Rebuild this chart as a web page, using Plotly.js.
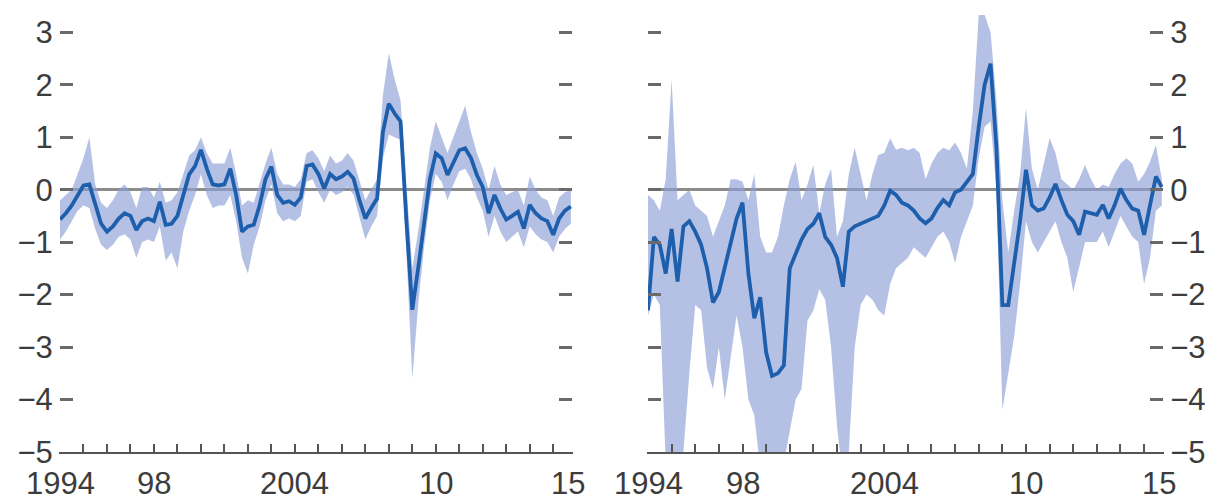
<!DOCTYPE html>
<html>
<head>
<meta charset="utf-8">
<script src="https://cdn.plot.ly/plotly-3.0.1.min.js"></script>
<style>html,body{margin:0;padding:0;background:#fff;}#chart{width:1213px;height:501px;}</style>
</head>
<body>
<div id="chart"></div>
<script>
// Quarterly dates 1994Q1 .. 2015Q4 (decimal years)
const quarters = [
1994.0,1994.25,1994.5,1994.75,1995.0,1995.25,1995.5,1995.75,1996.0,1996.25,1996.5,1996.75,
1997.0,1997.25,1997.5,1997.75,1998.0,1998.25,1998.5,1998.75,1999.0,1999.25,1999.5,1999.75,
2000.0,2000.25,2000.5,2000.75,2001.0,2001.25,2001.5,2001.75,2002.0,2002.25,2002.5,2002.75,
2003.0,2003.25,2003.5,2003.75,2004.0,2004.25,2004.5,2004.75,2005.0,2005.25,2005.5,2005.75,
2006.0,2006.25,2006.5,2006.75,2007.0,2007.25,2007.5,2007.75,2008.0,2008.25,2008.5,2008.75,
2009.0,2009.25,2009.5,2009.75,2010.0,2010.25,2010.5,2010.75,2011.0,2011.25,2011.5,2011.75,
2012.0,2012.25,2012.5,2012.75,2013.0,2013.25,2013.5,2013.75,2014.0,2014.25,2014.5,2014.75,
2015.0,2015.25,2015.5,2015.75];

// Left panel
const leftMean = [
-0.57,-0.45,-0.3,-0.1,0.08,0.1,-0.3,-0.65,-0.8,-0.7,-0.55,-0.45,
-0.5,-0.77,-0.6,-0.55,-0.6,-0.23,-0.67,-0.65,-0.5,-0.1,0.29,0.45,
0.76,0.4,0.1,0.08,0.1,0.4,-0.1,-0.8,-0.7,-0.67,-0.3,0.2,
0.44,-0.1,-0.25,-0.22,-0.29,-0.15,0.45,0.48,0.3,0.02,0.3,0.2,
0.25,0.34,0.21,-0.2,-0.55,-0.35,-0.17,1.1,1.64,1.45,1.3,-0.6,
-2.29,-1.5,-0.6,0.2,0.69,0.6,0.28,0.5,0.75,0.79,0.6,0.28,
0.05,-0.45,-0.1,-0.36,-0.57,-0.5,-0.42,-0.74,-0.29,-0.45,-0.55,-0.6,
-0.86,-0.55,-0.4,-0.32];
const leftLower = [
-0.95,-0.8,-0.6,-0.4,-0.3,-0.35,-0.75,-1.05,-1.15,-1.05,-0.9,-0.85,
-0.95,-1.3,-1.0,-0.95,-1.0,-0.7,-1.35,-1.2,-1.5,-0.8,-0.4,-0.1,
0.3,-0.1,-0.35,-0.3,-0.3,-0.1,-0.6,-1.3,-1.6,-1.05,-0.7,-0.2,
0.1,-0.45,-0.6,-0.55,-0.6,-0.5,0.15,0.2,-0.05,-0.25,0.0,-0.1,
-0.05,0.05,-0.1,-0.55,-0.95,-0.7,-0.5,0.6,1.05,1.0,0.95,-1.2,
-3.6,-2.2,-1.1,-0.2,0.3,0.15,-0.2,0.1,0.35,0.4,0.2,-0.15,
-0.4,-0.9,-0.5,-0.8,-1.0,-0.9,-0.8,-1.1,-0.7,-0.85,-0.95,-1.0,
-1.2,-0.9,-0.75,-0.65];
const leftUpper = [
-0.2,-0.1,0.0,0.3,0.6,1.0,0.1,-0.25,-0.35,-0.2,0.0,0.1,
-0.05,-0.35,0.05,0.05,-0.15,0.15,-0.25,-0.2,-0.05,0.3,0.65,0.75,
1.0,0.7,0.5,0.5,0.5,0.8,0.3,-0.3,-0.2,-0.25,0.15,0.5,
0.8,0.3,0.1,0.1,0.05,0.2,0.7,0.75,0.6,0.35,0.65,0.5,
0.55,0.7,0.55,0.15,-0.2,0.0,0.2,1.8,2.6,2.1,1.7,0.1,
-1.5,-0.8,0.0,0.8,1.3,1.0,0.7,1.0,1.3,1.6,1.1,0.7,
0.4,0.0,0.45,0.1,-0.1,-0.05,0.0,-0.3,0.25,0.0,-0.15,-0.2,
-0.5,-0.15,-0.05,0.0];

// Right panel
const rightMean = [
-2.3,-0.9,-1.05,-1.6,-0.75,-1.75,-0.7,-0.6,-0.8,-1.05,-1.5,-2.15,
-1.95,-1.5,-1.0,-0.55,-0.25,-1.6,-2.45,-2.05,-3.1,-3.55,-3.5,-3.35,
-1.5,-1.2,-0.95,-0.75,-0.65,-0.45,-0.9,-1.05,-1.3,-1.85,-0.8,-0.7,
-0.65,-0.6,-0.55,-0.5,-0.3,-0.02,-0.1,-0.25,-0.3,-0.4,-0.55,-0.64,
-0.55,-0.35,-0.2,-0.3,-0.05,0.0,0.15,0.3,1.2,2.0,2.4,0.8,
-2.2,-2.2,-1.4,-0.6,0.38,-0.3,-0.4,-0.36,-0.15,0.11,-0.2,-0.48,
-0.6,-0.86,-0.42,-0.45,-0.48,-0.29,-0.55,-0.3,0.02,-0.2,-0.36,-0.4,
-0.86,-0.3,0.25,0.05];
const rightLower = [
-2.4,-2.0,-2.2,-5.2,-5.5,-5.5,-5.0,-3.5,-2.2,-2.3,-3.4,-3.8,
-3.0,-4.0,-3.2,-2.4,-3.0,-4.0,-4.3,-5.3,-5.5,-5.5,-5.5,-5.2,
-4.6,-4.0,-3.8,-2.5,-2.3,-1.9,-2.1,-3.0,-4.5,-5.5,-5.0,-3.0,
-2.2,-2.0,-2.1,-2.3,-2.4,-1.8,-1.5,-1.4,-1.3,-1.1,-1.2,-1.3,
-1.1,-0.9,-0.8,-1.0,-1.4,-0.9,-0.6,-0.3,0.6,1.2,1.3,0.0,
-4.2,-3.5,-2.8,-1.8,-0.6,-1.0,-1.2,-1.0,-0.8,-0.6,-1.0,-1.3,
-1.95,-1.5,-1.0,-1.0,-1.0,-0.8,-1.1,-0.8,-0.5,-0.7,-0.9,-1.0,
-1.8,-1.3,-0.4,-0.3];
const rightUpper = [
-0.1,-0.2,-0.4,0.2,2.1,-0.2,-0.1,0.0,-0.3,-0.4,-0.5,-0.9,
-0.6,-0.3,0.2,0.2,0.15,-0.2,0.3,-0.9,-1.2,-1.2,-0.9,-0.3,
0.2,0.53,-0.2,0.1,0.47,-0.45,0.1,0.4,-0.9,-0.6,0.3,0.8,
0.3,-0.2,0.3,0.66,0.7,0.98,0.76,0.8,0.75,0.8,0.7,0.2,
0.5,0.7,0.8,0.75,0.9,0.7,0.4,1.5,3.33,3.33,3.0,1.7,
-0.2,-1.2,-0.4,0.3,1.55,0.4,0.0,0.5,0.98,0.7,0.2,0.1,
0.0,0.2,0.47,0.2,0.0,0.1,0.05,0.3,0.5,0.6,0.5,0.15,
0.3,0.53,0.85,0.2];

const yearTicks = [1994,1995,1996,1997,1998,1999,2000,2001,2002,2003,2004,2005,2006,2007,2008,2009,2010,2011,2012,2013,2014,2015];
const labelPos = [1994, 1998, 2004, 2010, 2015.65];
const labelText = ["1994", "98", "2004", "10", "15"];
const yTicks = [3,2,1,0,-1,-2,-3,-4,-5];

const lineColor = "#1d5fac";
const bandColor = "rgba(140,160,215,0.65)";

function bandTraces(lower, upper, mean, xa, ya) {
  return [
    {x: quarters, y: lower, xaxis: xa, yaxis: ya, type: "scatter", mode: "lines",
     line: {width: 0, color: bandColor}, hoverinfo: "skip", showlegend: false},
    {x: quarters, y: upper, xaxis: xa, yaxis: ya, type: "scatter", mode: "lines",
     fill: "tonexty", fillcolor: bandColor, line: {width: 0, color: bandColor},
     hoverinfo: "skip", showlegend: false},
    {x: quarters, y: mean, xaxis: xa, yaxis: ya, type: "scatter", mode: "lines",
     line: {width: 3.8, color: lineColor}, showlegend: false}
  ];
}

const data = [].concat(
  bandTraces(leftLower, leftUpper, leftMean, "x", "y"),
  bandTraces(rightLower, rightUpper, rightMean, "x2", "y2")
);

const fontFam = "Liberation Sans, Arial, sans-serif";
const labelFont = {family: fontFam, size: 31, color: "#3c3c3c"};
const xRange = [1994, 2015.8];
const xTicksAxis = {
  range: xRange, tickmode: "array", tickvals: yearTicks, showticklabels: false,
  ticks: "inside", ticklen: 8, tickwidth: 2, tickcolor: "#555",
  showline: true, linecolor: "#555", linewidth: 2,
  showgrid: false, zeroline: false, automargin: false
};
const yCommon = {
  range: [-5, 3.5], tickmode: "array", tickvals: yTicks,
  ticks: "inside", ticklen: 13, tickwidth: 3, tickcolor: "#6a6a6a",
  mirror: "ticks", showline: true, linecolor: "rgba(0,0,0,0)", linewidth: 1,
  showgrid: false, zeroline: true, zerolinecolor: "#8c8c8c", zerolinewidth: 3,
  automargin: false, tickfont: labelFont
};

// x-axis year labels as text annotations placed on the data x scale
const annotations = [];
["x", "x2"].forEach(function (xr) {
  labelPos.forEach(function (p, i) {
    annotations.push({
      x: p, xref: xr, y: 0, yref: "paper", yanchor: "middle", yshift: -31,
      text: labelText[i], showarrow: false, font: labelFont
    });
  });
});

const layout = {
  width: 1213, height: 501,
  margin: {l: 0, r: 0, t: 6, b: 49, pad: 0},
  paper_bgcolor: "#fff", plot_bgcolor: "rgba(0,0,0,0)",
  showlegend: false,
  xaxis: Object.assign({}, xTicksAxis, {domain: [60/1213, 572/1213], anchor: "y"}),
  yaxis: Object.assign({}, yCommon, {domain: [0, 1], anchor: "x", side: "left"}),
  xaxis2: Object.assign({}, xTicksAxis, {domain: [648/1213, 1163/1213], anchor: "y2"}),
  yaxis2: Object.assign({}, yCommon, {domain: [0, 1], anchor: "x2", side: "right"}),
  annotations: annotations
};

Plotly.newPlot("chart", data, layout, {staticPlot: true, displayModeBar: false});
</script>
</body>
</html>
